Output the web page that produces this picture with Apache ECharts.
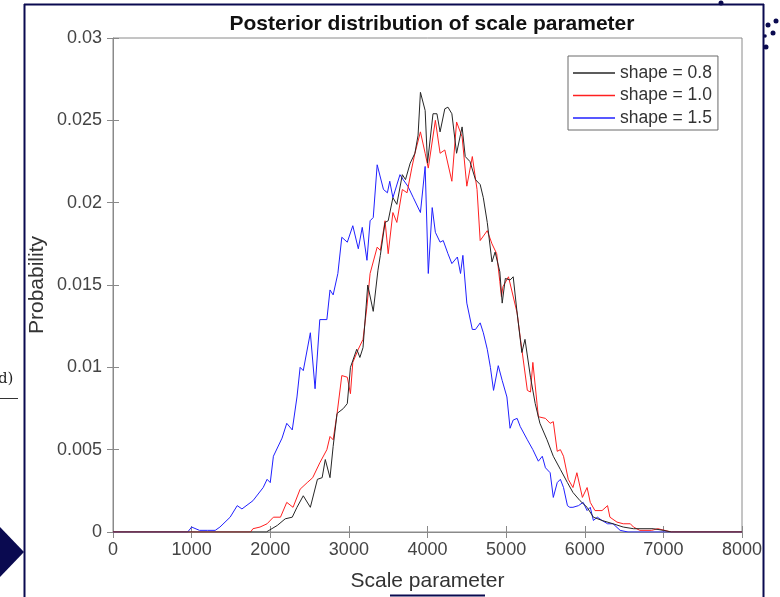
<!DOCTYPE html>
<html><head><meta charset="utf-8">
<script src="https://cdn.jsdelivr.net/npm/echarts@6/dist/echarts.min.js"></script>
<style>html,body{margin:0;padding:0;background:#fff}#c{width:780px;height:597px}</style>
</head><body><div id="c"></div>
<script>
const titleText = 'Posterior distribution of scale parameter';
const xLabel = 'Scale parameter';
const yLabel = 'Probability';
const seriesNames = ['shape = 0.8', 'shape = 1.0', 'shape = 1.5'];
const seriesColors = ['#262626', '#ff2020', '#2020ff'];

const shape08 = [[0,0],[1950,0],[2090,0.0004],[2190,0.0008],[2280,0.0009],[2340,0.0015],[2420,0.0022],[2510,0.0015],[2600,0.0032],[2660,0.0033],[2700,0.0044],[2760,0.0033],[2800,0.0052],[2850,0.0072],[2930,0.0075],[2980,0.0078],[3020,0.0100],[3100,0.0111],[3140,0.0106],[3180,0.0112],[3240,0.0150],[3310,0.0134],[3370,0.0159],[3400,0.0168],[3460,0.0188],[3500,0.0189],[3560,0.0203],[3610,0.0199],[3680,0.0217],[3720,0.0214],[3780,0.0224],[3840,0.0230],[3880,0.0241],[3910,0.0267],[3970,0.0256],[4000,0.0224],[4070,0.0254],[4120,0.0254],[4160,0.0243],[4220,0.0257],[4260,0.0258],[4310,0.0254],[4370,0.0230],[4440,0.0246],[4480,0.0228],[4540,0.0225],[4610,0.0214],[4670,0.0211],[4710,0.0203],[4760,0.0188],[4820,0.0164],[4860,0.0170],[4920,0.0158],[4950,0.0139],[4990,0.0154],[5050,0.0153],[5090,0.0155],[5140,0.0133],[5200,0.0109],[5240,0.0117],[5310,0.0094],[5370,0.0078],[5430,0.0066],[5520,0.0056],[5600,0.0046],[5690,0.0038],[5780,0.0030],[5850,0.0024],[5940,0.0019],[6030,0.0015],[6110,0.0009],[6220,0.0007],[6360,0.0005],[6490,0.0003],[6620,0.0002],[6870,0.0002],[7000,0.0001],[7100,0],[8000,0]];

const shape10 = [[0,0],[1750,0],[1780,0.0002],[1870,0.0003],[1960,0.0005],[2040,0.0009],[2130,0.0009],[2210,0.0018],[2290,0.0015],[2380,0.0026],[2470,0.0030],[2540,0.0033],[2630,0.0042],[2720,0.0050],[2760,0.0058],[2800,0.0056],[2850,0.0072],[2910,0.0095],[2980,0.0094],[3020,0.0084],[3050,0.0103],[3120,0.0111],[3180,0.0117],[3230,0.0137],[3270,0.0157],[3360,0.0173],[3400,0.0171],[3460,0.0189],[3500,0.0169],[3560,0.0194],[3610,0.0188],[3680,0.0208],[3740,0.0206],[3800,0.0221],[3840,0.0230],[3910,0.0243],[3970,0.0230],[4010,0.0221],[4100,0.0250],[4160,0.0230],[4220,0.0232],[4310,0.0213],[4370,0.0249],[4440,0.0240],[4500,0.0210],[4570,0.0228],[4630,0.0208],[4670,0.0177],[4760,0.0183],[4820,0.0175],[4880,0.0169],[4920,0.0152],[4940,0.0143],[4960,0.0149],[5030,0.0155],[5140,0.0133],[5180,0.0118],[5270,0.0086],[5310,0.0085],[5340,0.0103],[5410,0.0070],[5500,0.0069],[5560,0.0066],[5600,0.0067],[5650,0.0049],[5690,0.0050],[5730,0.0046],[5790,0.0032],[5850,0.0027],[5900,0.0036],[5970,0.0021],[6030,0.0027],[6070,0.0018],[6130,0.0013],[6220,0.0013],[6290,0.0016],[6320,0.0009],[6410,0.0006],[6490,0.0005],[6580,0.0005],[6620,0.0003],[6700,0.0001],[6850,0.0001],[6930,0.0002],[7100,0],[8000,0]];

const shape15 = [[0,0],[950,0],[1000,0.0003],[1100,0.0001],[1200,0.0001],[1300,0.0001],[1360,0.0003],[1490,0.0009],[1580,0.0016],[1640,0.0014],[1780,0.0019],[1910,0.0027],[1960,0.0032],[2000,0.0030],[2040,0.0046],[2150,0.0057],[2210,0.0066],[2280,0.0062],[2340,0.0082],[2380,0.0100],[2420,0.0098],[2510,0.0121],[2570,0.0087],[2630,0.0129],[2720,0.0129],[2760,0.0147],[2800,0.0144],[2860,0.0157],[2910,0.0179],[2980,0.0176],[3050,0.0186],[3120,0.0172],[3170,0.0185],[3230,0.0165],[3270,0.0189],[3310,0.0191],[3360,0.0223],[3440,0.0208],[3490,0.0206],[3520,0.0213],[3560,0.0203],[3650,0.0217],[3690,0.0214],[3750,0.0210],[3820,0.0203],[3910,0.0194],[3970,0.0222],[4010,0.0157],[4060,0.0197],[4100,0.0182],[4160,0.0176],[4200,0.0177],[4260,0.0169],[4310,0.0163],[4380,0.0167],[4420,0.0157],[4450,0.0168],[4500,0.0139],[4570,0.0123],[4610,0.0123],[4670,0.0127],[4710,0.0121],[4760,0.0111],[4800,0.0100],[4840,0.0086],[4900,0.0101],[4950,0.0092],[5010,0.0082],[5050,0.0063],[5090,0.0068],[5140,0.0069],[5180,0.0064],[5270,0.0056],[5340,0.0050],[5410,0.0043],[5460,0.0046],[5500,0.0039],[5560,0.0036],[5600,0.0021],[5650,0.0030],[5690,0.0032],[5730,0.0027],[5780,0.0016],[5810,0.0015],[5850,0.0015],[5920,0.0016],[5980,0.0018],[6030,0.0013],[6070,0.0015],[6110,0.0007],[6160,0.0009],[6220,0.0007],[6290,0.0005],[6360,0.0005],[6450,0.0001],[6550,0],[8000,0]];

const allData = [shape08, shape10, shape15];
const FONT = '"Liberation Sans", Arial, Helvetica, sans-serif';
const axisGray = '#8a8a8a';
const labelGray = '#444444';

const chart = echarts.init(document.getElementById('c'), null, {renderer: 'canvas'});
const navy = '#0a0a50';

const option = {
  backgroundColor: '#ffffff',
  animation: false,
  title: {
    text: titleText, left: 427, top: 9, textAlign: 'center',
    textStyle: {fontFamily: FONT, fontSize: 21, fontWeight: 'bold', color: '#111'}
  },
  grid: {left: 113, right: 38, top: 38, bottom: 65, show: true, borderColor: axisGray, borderWidth: 1, backgroundColor: '#fff'},
  legend: {
    orient: 'vertical', left: 568, top: 56, align: 'left',
    itemWidth: 42, itemHeight: 1.5, itemGap: 4.5,
    padding: [8, 6, 3, 5],
    backgroundColor: '#fff', borderColor: '#6a6a6a', borderWidth: 1,
    textStyle: {fontFamily: FONT, fontSize: 17.5, lineHeight: 18, color: '#333'},
    data: seriesNames.map((n, i) => ({name: n, icon: 'rect', itemStyle: {color: seriesColors[i], borderWidth: 0}}))
  },
  xAxis: [{
    type: 'value', min: 0, max: 8000, interval: 1000,
    name: xLabel, nameLocation: 'middle', nameGap: 39,
    nameTextStyle: {fontFamily: FONT, fontSize: 21, color: '#333'},
    axisLine: {show: true, lineStyle: {color: axisGray}},
    axisTick: {show: true, inside: true, length: 6, lineStyle: {color: axisGray}},
    axisLabel: {fontFamily: FONT, fontSize: 18, color: labelGray, margin: 9, formatter: v => String(v)},
    splitLine: {show: false}
  }, {
    type: 'value', min: 0, max: 8000, interval: 1000, position: 'top',
    axisLine: {show: false},
    axisTick: {show: true, inside: true, length: 6, lineStyle: {color: axisGray}},
    axisLabel: {show: false}, splitLine: {show: false}
  }],
  yAxis: [{
    type: 'value', min: 0, max: 0.03, interval: 0.005,
    name: yLabel, nameLocation: 'middle', nameGap: 65, nameRotate: 90, nameMoveOverlap: false,
    nameTextStyle: {fontFamily: FONT, fontSize: 21, color: '#333'},
    axisLine: {show: true, lineStyle: {color: axisGray}},
    axisTick: {show: true, inside: true, length: 6, lineStyle: {color: axisGray}},
    axisLabel: {fontFamily: FONT, fontSize: 18, color: labelGray, margin: 11, formatter: v => String(+v.toFixed(3))},
    splitLine: {show: false}
  }, {
    type: 'value', min: 0, max: 0.03, interval: 0.005, position: 'right',
    axisLine: {show: false},
    axisTick: {show: true, inside: true, length: 6, lineStyle: {color: axisGray}},
    axisLabel: {show: false}, splitLine: {show: false}
  }],
  series: seriesNames.map((n, i) => ({
    name: n, type: 'line', data: allData[i], symbol: 'none', showSymbol: false,
    xAxisIndex: 0, yAxisIndex: 0,
    lineStyle: {color: seriesColors[i], width: 1}, itemStyle: {color: seriesColors[i]},
    z: 3 + (2 - i)
  })),
  graphic: [
    {type: 'line', shape: {x1: 24.5, y1: 4, x2: 24.5, y2: 597}, style: {stroke: navy, lineWidth: 2}, z: 100},
    {type: 'line', shape: {x1: 24, y1: 4.5, x2: 764, y2: 4.5}, style: {stroke: navy, lineWidth: 2}, z: 100},
    {type: 'line', shape: {x1: 763.5, y1: 4, x2: 763.5, y2: 597}, style: {stroke: navy, lineWidth: 2}, z: 100},
    {type: 'polygon', shape: {points: [[0, 527], [24, 552], [0, 577]]}, style: {fill: navy}, z: 100},
    {type: 'line', shape: {x1: 390, y1: 595.5, x2: 485, y2: 595.5}, style: {stroke: navy, lineWidth: 2}, z: 100},
    {type: 'text', left: -2, top: 372, style: {text: 'd)', font: '15px "DejaVu Serif", serif', fill: '#222'}, z: 100},
    {type: 'line', shape: {x1: 0, y1: 398.5, x2: 18, y2: 398.5}, style: {stroke: '#333', lineWidth: 1}, z: 100},
    {type: 'circle', shape: {cx: 721, cy: 3, r: 2.5}, style: {fill: navy}, z: 100},
    {type: 'circle', shape: {cx: 768, cy: 25, r: 2.5}, style: {fill: navy}, z: 100},
    {type: 'circle', shape: {cx: 776, cy: 21, r: 2.5}, style: {fill: navy}, z: 100},
    {type: 'circle', shape: {cx: 773, cy: 33, r: 2.5}, style: {fill: navy}, z: 100},
    {type: 'circle', shape: {cx: 766, cy: 47, r: 2.5}, style: {fill: navy}, z: 100},
    {type: 'circle', shape: {cx: 765, cy: 36, r: 1.8}, style: {fill: navy}, z: 100}
  ]
};
chart.setOption(option);
</script></body></html>
